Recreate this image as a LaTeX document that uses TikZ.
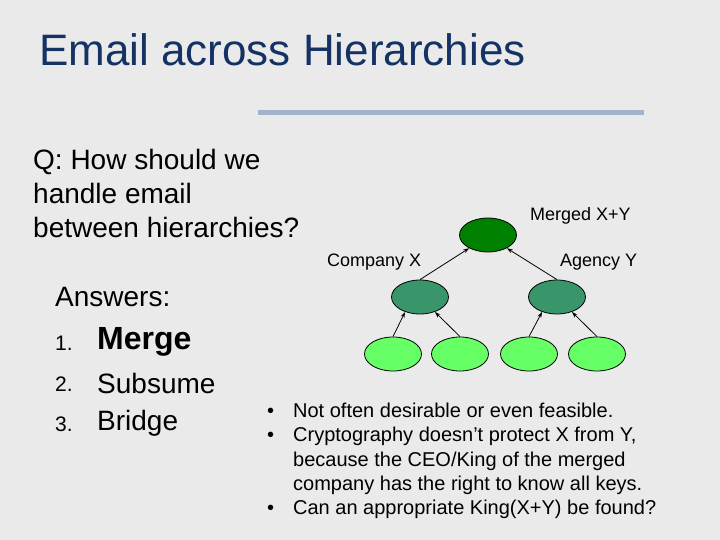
\documentclass[tikz,border=0pt]{standalone}
\usepackage{fontspec}
\setmainfont{Liberation Sans}
\usetikzlibrary{shapes.geometric,arrows.meta}
\definecolor{bg}{RGB}{234,234,234}
\definecolor{rule}{RGB}{160,180,204}
\definecolor{ttl}{RGB}{20,50,100}
\definecolor{topc}{RGB}{0,128,0}
\definecolor{midc}{RGB}{56,150,106}
\definecolor{leafc}{RGB}{102,255,102}
\begin{document}
\begin{tikzpicture}[x=1pt,y=-1pt,
  ell/.style={ellipse,draw=black,line width=0.8pt,minimum width=57pt,minimum height=34pt,inner sep=0pt},
  top/.style={ell,fill=topc},
  mid/.style={ell,fill=midc},
  leaf/.style={ell,fill=leafc},
  arr/.style={-{Stealth[length=6pt,width=4pt]},line width=0.8pt},
  lbl/.style={font=\fontsize{18}{20}\selectfont,inner sep=0pt}]
\fill[bg] (0,0) rectangle (720,540);
\useasboundingbox (0,0) rectangle (720,540);
\node[anchor=west,inner sep=0pt,text=ttl,font=\fontsize{44}{50}\selectfont] (title) at (39,50) {Email across Hierarchies};
\draw[line width=5pt,rule] (258,113) -- (644,113);
\node[anchor=north west,inner sep=0pt,align=left,font=\fontsize{28}{34}\selectfont] (q) at (33,149) {Q: How should we\\handle email\\between hierarchies?};
\node[anchor=west,inner sep=0pt,font=\fontsize{28}{30}\selectfont] (ans) at (55,297) {Answers:};
\node[anchor=west,inner sep=0pt,font=\fontsize{21}{22}\selectfont] (n1) at (55,343) {1.};
\node[anchor=west,inner sep=0pt,font=\bfseries\fontsize{32}{34}\selectfont] (m1) at (97,342) {Merge};
\node[anchor=west,inner sep=0pt,font=\fontsize{21}{22}\selectfont] (n2) at (55,384) {2.};
\node[anchor=west,inner sep=0pt,font=\fontsize{28}{30}\selectfont] (m2) at (97,383) {Subsume};
\node[anchor=west,inner sep=0pt,font=\fontsize{21}{22}\selectfont] (n3) at (55,424) {3.};
\node[anchor=west,inner sep=0pt,font=\fontsize{28}{30}\selectfont] (m3) at (97,423) {Bridge};
\node[top] (t) at (488,235) {};
\node[mid] (a) at (420,297) {};
\node[mid] (b) at (557,297) {};
\node[leaf] (l1) at (393,354) {};
\node[leaf] (l2) at (460,354) {};
\node[leaf] (l3) at (529,354) {};
\node[leaf] (l4) at (597,354) {};
\draw[arr] (a.north) -- (t.215);
\draw[arr] (b.north) -- (t.325);
\draw[arr] (l1.north) -- (a.225);
\draw[arr] (l2.north) -- (a.315);
\draw[arr] (l3.north) -- (b.225);
\draw[arr] (l4.north) -- (b.315);
\node[lbl,anchor=west] (lm) at (530,216) {Merged X+Y};
\node[lbl,anchor=west] (lc) at (327,262) {Company X};
\node[lbl,anchor=west] (la) at (560,262) {Agency Y};
\node[anchor=north west,inner sep=0pt,align=left,font=\fontsize{20}{24.3}\selectfont] (bul) at (267,403)
{\makebox[26pt][l]{\textbullet}Not often desirable or even feasible.\\
\makebox[26pt][l]{\textbullet}Cryptography doesn’t protect X from Y,\\
\hspace*{26pt}because the CEO/King of the merged\\
\hspace*{26pt}company has the right to know all keys.\\
\makebox[26pt][l]{\textbullet}Can an appropriate King(X+Y) be found?};
\end{tikzpicture}
\end{document}
